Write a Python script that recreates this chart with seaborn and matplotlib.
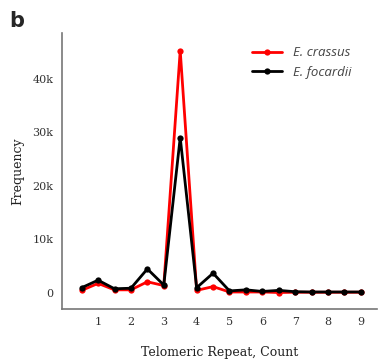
import pandas as pd
import matplotlib.pyplot as plt
import seaborn as sns
from matplotlib.ticker import FuncFormatter

repeat_count = [0.5, 1, 1.5, 2, 2.5, 3, 3.5, 4, 4.5, 5, 5.5, 6, 6.5, 7, 7.5, 8, 8.5, 9]
crassus = [500, 1800, 600, 600, 2100, 1400, 45200, 500, 1200, 200, 200, 200, 100, 150, 150, 150, 150, 150]
focardii = [1000, 2400, 800, 900, 4500, 1500, 29000, 1000, 3700, 400, 600, 300, 500, 250, 200, 200, 200, 200]
species = ['E. crassus', 'E. focardii']

df = pd.concat([
    pd.DataFrame({'count': repeat_count, 'freq': crassus, 'species': species[0]}),
    pd.DataFrame({'count': repeat_count, 'freq': focardii, 'species': species[1]}),
])

sns.set_style('white')
fig = plt.figure(figsize=(3.8, 3.62), dpi=100)
ax = fig.add_axes([0.163, 0.146, 0.83, 0.763])

sns.lineplot(data=df, x='count', y='freq', hue='species',
             palette={'E. crassus': '#ff0000', 'E. focardii': '#000000'},
             marker='o', markersize=4.5, markeredgewidth=0, linewidth=2, ax=ax)

ax.set_xlim(-0.1, 9.5)
ax.set_ylim(-3000, 48500)
ax.set_xticks(range(1, 10))
ax.set_yticks([0, 10000, 20000, 30000, 40000])
ax.yaxis.set_major_formatter(FuncFormatter(lambda v, p: '0' if v == 0 else f'{int(v/1000)}k'))
for lab in ax.get_xticklabels() + ax.get_yticklabels():
    lab.set_fontfamily('DejaVu Serif')
    lab.set_fontsize(8)
    lab.set_color('#333333')
ax.tick_params(length=0, pad=6)

ax.set_xlabel('Telomeric Repeat, Count', family='DejaVu Serif', fontsize=9, labelpad=13, color='#222222')
ax.set_ylabel('Frequency', family='DejaVu Serif', fontsize=9, labelpad=6, color='#222222')

sns.despine(ax=ax)
for s in ['left', 'bottom']:
    ax.spines[s].set_color('#777777')
    ax.spines[s].set_linewidth(1.2)

leg = ax.legend(loc='upper right', frameon=False, handlelength=2.3,
                prop={'family': 'Open Sans', 'style': 'italic', 'size': 9.5},
                bbox_to_anchor=(0.955, 0.995))
for t in leg.get_texts():
    t.set_color('#444444')

fig.text(0.025, 0.925, 'b', fontsize=15, fontweight='heavy', family='DejaVu Sans')

fig.savefig('out.png', dpi=100)
